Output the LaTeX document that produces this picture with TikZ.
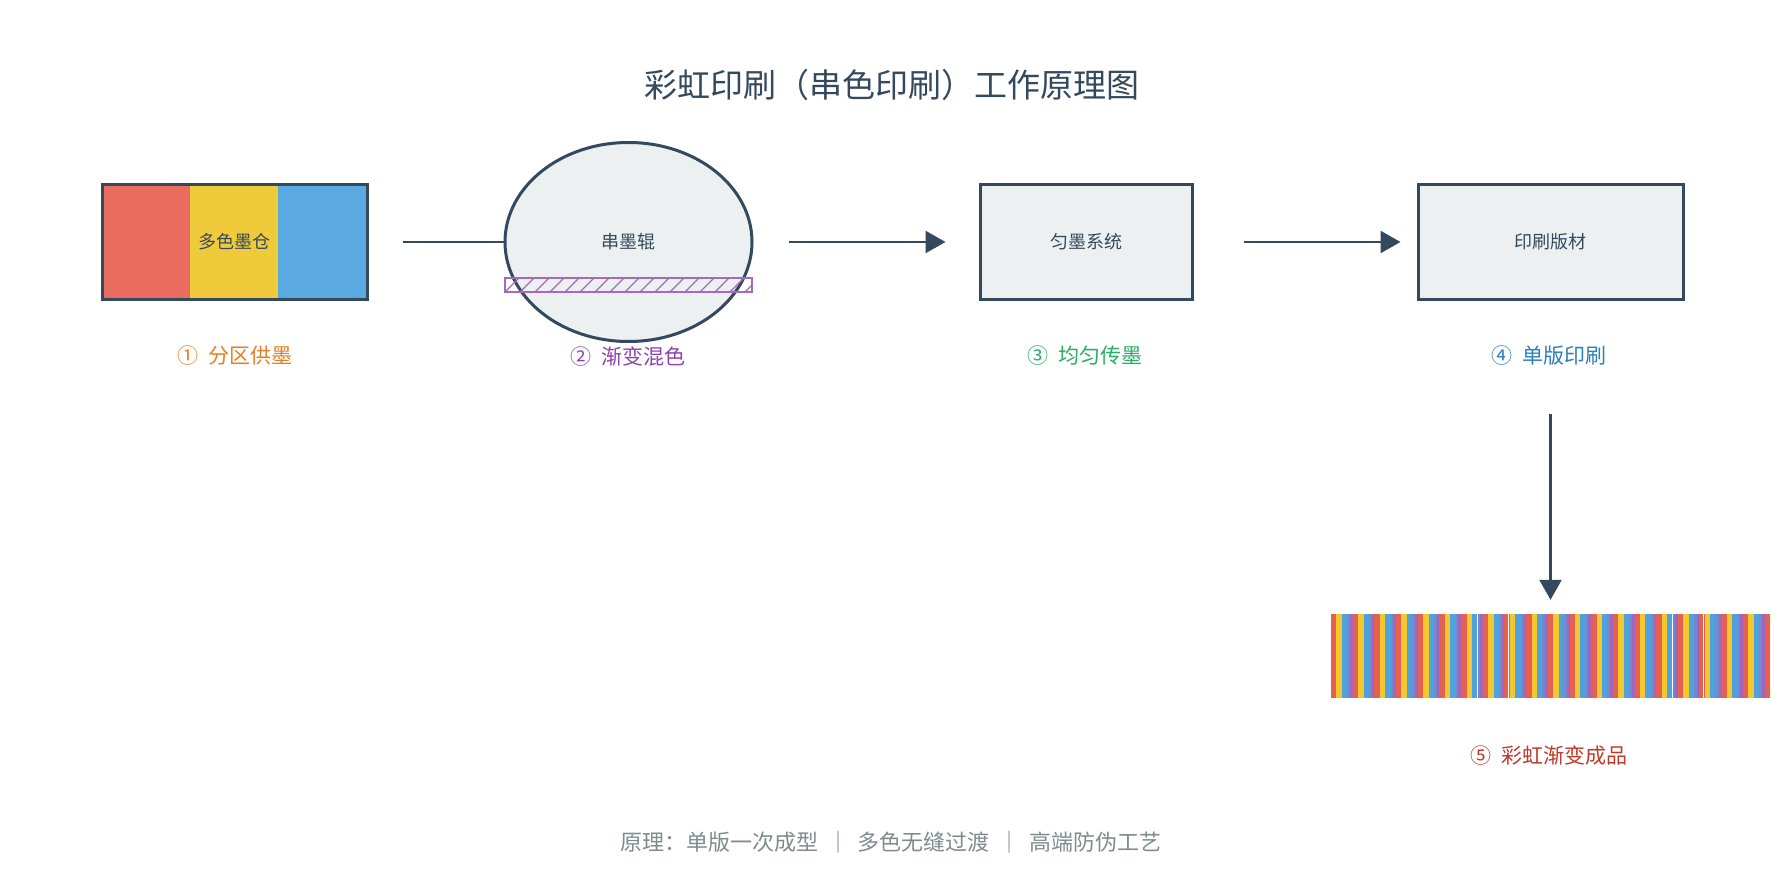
\documentclass[tikz,border=0pt]{standalone}
\usepackage{fontspec}
\setmainfont{Noto Sans CJK SC}
\usetikzlibrary{arrows.meta,shapes.geometric}
\definecolor{dark}{HTML}{34495E}
\definecolor{boxfill}{HTML}{ECF0F1}
\definecolor{inkred}{HTML}{E96C5F}
\definecolor{inkyel}{HTML}{EFCB3B}
\definecolor{inkblu}{HTML}{5AA9E0}
\definecolor{hpur}{HTML}{A569BD}
\definecolor{sred}{HTML}{E5604F}
\definecolor{syel}{HTML}{F4C72E}
\definecolor{sblu}{HTML}{4EA3DC}
\definecolor{spur}{HTML}{A066BE}
\definecolor{lorange}{HTML}{E67E22}
\definecolor{lpurple}{HTML}{8E44AD}
\definecolor{lgreen}{HTML}{27AE60}
\definecolor{lblue}{HTML}{2980B9}
\definecolor{lred}{HTML}{C0392B}
\definecolor{notegray}{HTML}{7F8C8D}
\begin{document}
\begin{tikzpicture}[x=1pt,y=-1pt,
  procbox/.style={draw=dark, line width=3pt, fill=boxfill, inner sep=0pt,
    minimum height=115pt, text=dark, font=\fontsize{18}{21}\selectfont},
  conn/.style={draw=dark, line width=2.5pt},
  arr/.style={conn, -{Triangle[length=20pt,width=22pt]}},
  steplabel/.style={font=\fontsize{21}{25}\selectfont},
]
\useasboundingbox (0,0) rectangle (1785,885);
\fill[white] (0,0) rectangle (1785,885);

% title
\node[font=\fontsize{33}{39}\selectfont, text=dark] (title) at (892,85) {彩虹印刷（串色印刷）工作原理图};

% ink tank
\fill[inkred] (102,185) rectangle (190,300);
\fill[inkyel] (190,185) rectangle (278,300);
\fill[inkblu] (278,185) rectangle (367,300);
\node[procbox, fill=none, minimum width=265pt] (ink) at (234.5,242) {多色墨仓};

% roller
\node[ellipse, draw=dark, line width=3pt, fill=boxfill, inner sep=0pt,
  minimum width=247pt, minimum height=199pt, text=dark,
  font=\fontsize{18}{21}\selectfont] (roller) at (628.5,242) {串墨辊};
\node[draw=hpur, line width=1.5pt, inner sep=0pt, minimum width=247pt, minimum height=14pt] (hatch) at (628.5,285) {};
\begin{scope}
  \clip (hatch.south west) rectangle (hatch.north east);
  \foreach \x in {490,505,...,760} \draw[hpur, line width=1.3pt] (\x,292) -- (\x+14,278);
\end{scope}

% distributor and plate
\node[procbox, minimum width=212pt] (even) at (1086,242) {匀墨系统};
\node[procbox, minimum width=265pt] (plate) at (1550.5,242) {印刷版材};

% product stripes
\node[inner sep=0pt, minimum width=439pt, minimum height=84pt] (product) at (1550.5,656) {};
\begin{scope}
  \clip (product.south west) rectangle (product.north east);
  \foreach \i in {0,...,81}{
    \pgfmathtruncatemacro\c{mod(\i,4)}
    \pgfmathsetmacro\xa{1331+\i*5.42}
    \pgfmathsetmacro\xb{1331+(\i+1)*5.42+0.3}
    \pgfmathsetmacro\xm{1331+(\i+0.5)*5.42}
    \ifcase\c
      \fill[sred] (\xa,614) rectangle (\xb,698);
    \or
      \fill[syel] (\xa,614) rectangle (\xb,698);
    \or
      \fill[sblu] (\xa,614) rectangle (\xb,698);
    \or
      \fill[sblu!55!spur] (\xa,614) rectangle (\xm+0.3,698);
      \fill[spur] (\xm,614) rectangle (\xb,698);
    \fi
  }
  \foreach \x in {1477,1508,1672,1703} \draw[white, line width=1pt] (\x,614) -- (\x,698);
\end{scope}

% connectors
\draw[conn, shorten <=34pt] (ink.east) -- (roller.west);
\draw[arr, shorten <=35pt, shorten >=33pt] (roller.east) -- (even.west);
\draw[arr, shorten <=50pt, shorten >=16pt] (even.east) -- (plate.west);
\draw[arr, shorten <=113pt, shorten >=14pt] (plate.south) -- (product.north);

% step labels
\node[steplabel, text=lorange] (l1) at (235,356) {①\hspace{0.45em}分区供墨};
\node[steplabel, text=lpurple] (l2) at (628,356) {②\hspace{0.45em}渐变混色};
\node[steplabel, text=lgreen] (l3) at (1085,356) {③\hspace{0.45em}均匀传墨};
\node[steplabel, text=lblue] (l4) at (1549,356) {④\hspace{0.45em}单版印刷};
\node[steplabel, text=lred] (l5) at (1549,755) {⑤\hspace{0.45em}彩虹渐变成品};

% note
\node[font=\fontsize{22}{26}\selectfont, text=notegray] (note) at (891,842)
  {原理：单版一次成型\hspace{0.4em}｜\hspace{0.4em}多色无缝过渡\hspace{0.4em}｜\hspace{0.4em}高端防伪工艺};
\end{tikzpicture}
\end{document}
